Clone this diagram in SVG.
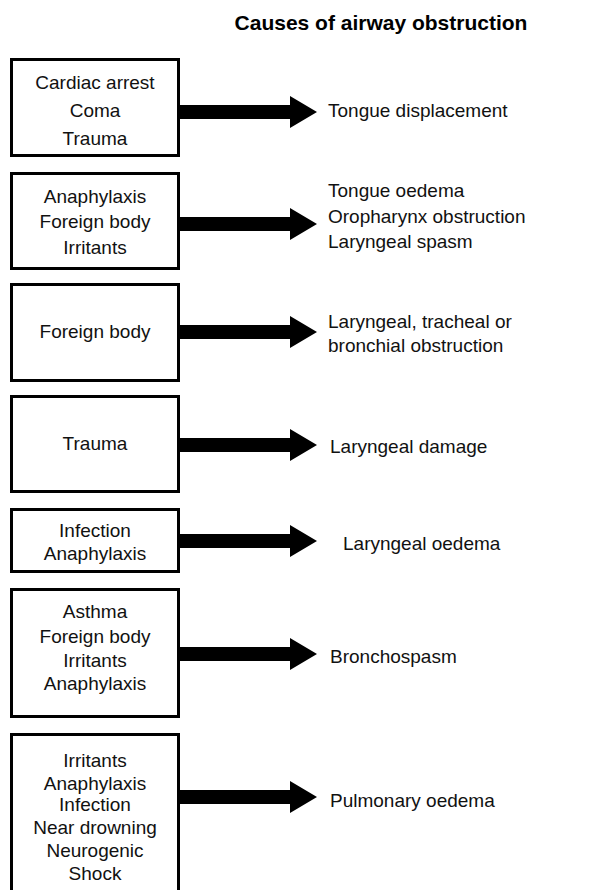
<svg xmlns="http://www.w3.org/2000/svg" xmlns:xlink="http://www.w3.org/1999/xlink" width="603" height="890" viewBox="0 0 603 890">
<style>
  .box { fill: #fff; stroke: #000; stroke-width: 3; }
  .t { font-family: "Liberation Sans", Arial, Helvetica, sans-serif; font-size: 19px; fill: #111; }
  .c { text-anchor: middle; }
  .title { font-family: "Liberation Sans", Arial, Helvetica, sans-serif; font-size: 21px; font-weight: bold; fill: #000; text-anchor: middle; }
  .arrow { fill: #000; }
</style>
<defs>
  <path id="arr" class="arrow" d="M0,-7 H110 V-16 L137,0 L110,16 V7 H0 Z"/>
</defs>
<rect width="603" height="890" fill="#fff"/>
<text id="title" class="title" x="381" y="30">Causes of airway obstruction</text>

<g id="connectors">
  <use xlink:href="#arr" x="180" y="112"/>
  <use xlink:href="#arr" x="180" y="224"/>
  <use xlink:href="#arr" x="180" y="332"/>
  <use xlink:href="#arr" x="180" y="445"/>
  <use xlink:href="#arr" x="180" y="541"/>
  <use xlink:href="#arr" x="180" y="654"/>
  <use xlink:href="#arr" x="180" y="797"/>
</g>

<g id="cause1">
  <rect class="box" x="11.5" y="59.5" width="167" height="96"/>
  <text class="t c" x="95" y="89">Cardiac arrest</text>
  <text class="t c" x="95" y="117">Coma</text>
  <text class="t c" x="95" y="145">Trauma</text>
</g>
<g id="effect1">
  <text class="t" x="328" y="117">Tongue displacement</text>
</g>

<g id="cause2">
  <rect class="box" x="11.5" y="173.5" width="167" height="95"/>
  <text class="t c" x="95" y="203">Anaphylaxis</text>
  <text class="t c" x="95" y="228">Foreign body</text>
  <text class="t c" x="95" y="254">Irritants</text>
</g>
<g id="effect2">
  <text class="t" x="328" y="197">Tongue oedema</text>
  <text class="t" x="328" y="223">Oropharynx obstruction</text>
  <text class="t" x="328" y="248">Laryngeal spasm</text>
</g>

<g id="cause3">
  <rect class="box" x="11.5" y="284.5" width="167" height="96"/>
  <text class="t c" x="95" y="338">Foreign body</text>
</g>
<g id="effect3">
  <text class="t" x="328" y="328">Laryngeal, tracheal or</text>
  <text class="t" x="328" y="352">bronchial obstruction</text>
</g>

<g id="cause4">
  <rect class="box" x="11.5" y="396.5" width="167" height="95"/>
  <text class="t c" x="95" y="450">Trauma</text>
</g>
<g id="effect4">
  <text class="t" x="330" y="453">Laryngeal damage</text>
</g>

<g id="cause5">
  <rect class="box" x="11.5" y="509.5" width="167" height="62"/>
  <text class="t c" x="95" y="537">Infection</text>
  <text class="t c" x="95" y="560">Anaphylaxis</text>
</g>
<g id="effect5">
  <text class="t" x="343" y="550">Laryngeal oedema</text>
</g>

<g id="cause6">
  <rect class="box" x="11.5" y="589.5" width="167" height="127"/>
  <text class="t c" x="95" y="618">Asthma</text>
  <text class="t c" x="95" y="643">Foreign body</text>
  <text class="t c" x="95" y="667">Irritants</text>
  <text class="t c" x="95" y="690">Anaphylaxis</text>
</g>
<g id="effect6">
  <text class="t" x="330" y="663">Bronchospasm</text>
</g>

<g id="cause7">
  <rect class="box" x="11.5" y="734.5" width="167" height="170"/>
  <text class="t c" x="95" y="767">Irritants</text>
  <text class="t c" x="95" y="790">Anaphylaxis</text>
  <text class="t c" x="95" y="811">Infection</text>
  <text class="t c" x="95" y="834">Near drowning</text>
  <text class="t c" x="95" y="857">Neurogenic</text>
  <text class="t c" x="95" y="880">Shock</text>
</g>
<g id="effect7">
  <text class="t" x="330" y="807">Pulmonary oedema</text>
</g>
</svg>
